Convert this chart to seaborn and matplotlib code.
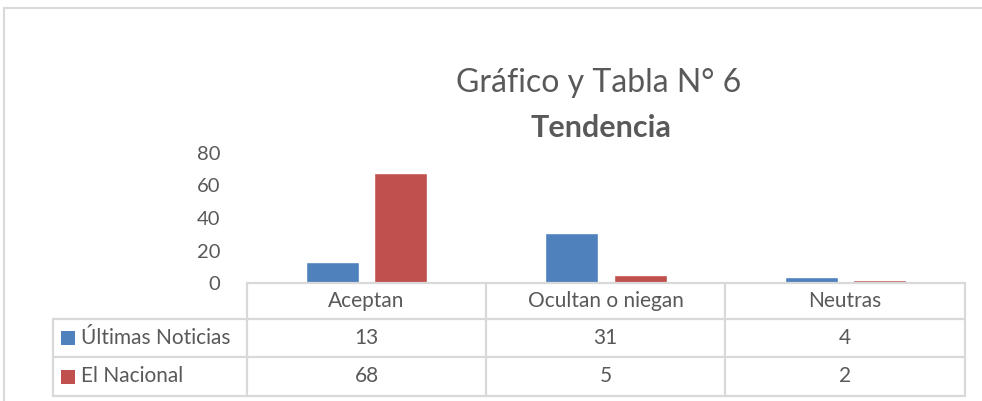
import pandas as pd
import matplotlib
matplotlib.use("Agg")
import matplotlib.pyplot as plt
import seaborn as sns
from matplotlib.lines import Line2D
from matplotlib.patches import Rectangle

# data
categories = ["Aceptan", "Ocultan o niegan", "Neutras"]
series_names = ["Últimas Noticias", "El Nacional"]
ultimas_noticias = [13, 31, 4]
el_nacional = [68, 5, 2]
y_ticks = [0, 20, 40, 60, 80]

colors = ["#4F81BD", "#C0504D"]
text_color = "#595959"
line_color = "#D9D9D9"

df = pd.DataFrame({
    "categoria": categories * 2,
    "serie": [series_names[0]] * 3 + [series_names[1]] * 3,
    "valor": ultimas_noticias + el_nacional,
})

sns.set_style("white")
plt.rcParams["font.family"] = ["Lato", "DejaVu Sans"]

W, H = 982, 401
fig = plt.figure(figsize=(W / 100, H / 100), dpi=100)


def fx(px):
    return px / W


def fy(py):
    return 1 - py / H


# plot area
x0, x1 = 247, 965
y_top, y_zero = 153, 283
ax = fig.add_axes([fx(x0), fy(y_zero), fx(x1) - fx(x0), fy(y_top) - fy(y_zero)])
sns.barplot(data=df, x="categoria", y="valor", hue="serie", order=categories,
            hue_order=series_names, palette=colors, width=0.57, gap=0.22,
            saturation=1, legend=False, ax=ax)
ax.set_xlim(-0.5, len(categories) - 0.5)
ax.set_ylim(0, y_ticks[-1])
ax.set_yticks(y_ticks)
ax.set_yticklabels([str(t) for t in y_ticks], fontsize=14.5, color=text_color)
ax.tick_params(axis="y", length=0, pad=19)
ax.set_xticks([])
ax.set_xlabel("")
ax.set_ylabel("")
for s in ax.spines.values():
    s.set_visible(False)
ax.patch.set_alpha(0)

# chart area border
fig.add_artist(Line2D([fx(4), fx(W + 5)], [fy(8), fy(8)], color=line_color, lw=1.5))
fig.add_artist(Line2D([fx(4), fx(4)], [fy(8), fy(H + 5)], color=line_color, lw=1.5))

# titles
fig.text(fx(599), fy(83), "Gráfico y Tabla N° 6", ha="center", va="center",
         fontsize=23, color=text_color)
fig.text(fx(601), fy(128), "Tendencia", ha="center", va="center",
         fontsize=22, color=text_color, fontweight="bold")

# data table
col_edges = [247, 486, 725, 965]
row_edges = [283, 319, 357, 396]
label_left = 53
lw = 1.6
for yy in row_edges:
    left = col_edges[0] if yy == row_edges[0] else label_left
    fig.add_artist(Line2D([fx(left), fx(col_edges[-1])], [fy(yy), fy(yy)], color=line_color, lw=lw))
for xx in col_edges:
    fig.add_artist(Line2D([fx(xx), fx(xx)], [fy(row_edges[0]), fy(row_edges[-1])], color=line_color, lw=lw))
fig.add_artist(Line2D([fx(label_left), fx(label_left)], [fy(row_edges[1]), fy(row_edges[-1])], color=line_color, lw=lw))

for i, cat in enumerate(categories):
    cx = (col_edges[i] + col_edges[i + 1]) / 2
    fig.text(fx(cx), fy((row_edges[0] + row_edges[1]) / 2), cat, ha="center", va="center",
             fontsize=15, color=text_color)

for r, (name, vals) in enumerate(zip(series_names, [ultimas_noticias, el_nacional])):
    cy = (row_edges[r + 1] + row_edges[r + 2]) / 2
    fig.add_artist(Rectangle((fx(61), fy(cy + 7)), fx(14), fy(0) - fy(14),
                             facecolor=colors[r], edgecolor="none"))
    fig.text(fx(81), fy(cy), name, ha="left", va="center", fontsize=15, color=text_color)
    for i, v in enumerate(vals):
        cx = (col_edges[i] + col_edges[i + 1]) / 2
        fig.text(fx(cx), fy(cy), str(v), ha="center", va="center", fontsize=15, color=text_color)

fig.savefig("out.png", dpi=100)
